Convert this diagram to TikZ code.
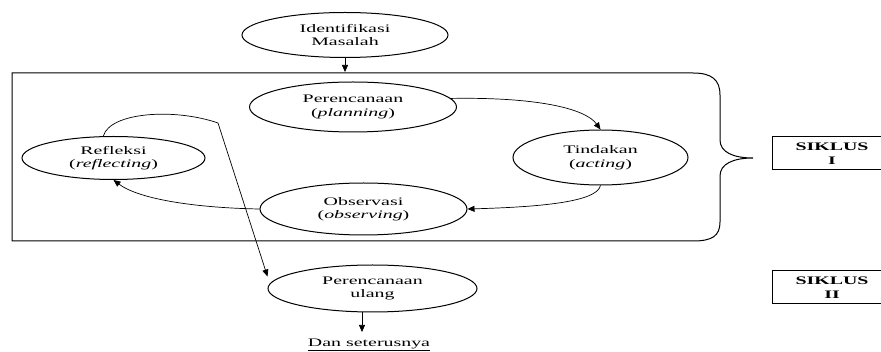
\documentclass[tikz,border=0pt]{standalone}
\usepackage{fontspec}
\setmainfont{Liberation Serif}[FakeStretch=1.73]
\usetikzlibrary{arrows.meta,shapes.geometric}
\begin{document}
\begin{tikzpicture}[x=1pt,y=-1pt,
  el/.style={draw,ellipse,inner sep=0pt,line width=1pt,align=center,
    font=\fontsize{11.5}{13.5}\selectfont},
  arr/.style={-{Triangle[length=7pt,width=6pt]},line width=0.7pt},
  sik/.style={draw,rectangle,line width=1pt,minimum width=120pt,minimum height=33pt,
    align=center,inner sep=0pt,font=\fontsize{11.5}{13.5}\selectfont\bfseries},
  txt/.style={inner sep=0pt,font=\fontsize{11.5}{13.5}\selectfont}]
\useasboundingbox (0,0) rectangle (881,352);

% cycle frame with brace
\draw[line width=1pt] (12,73) -- (693,73)
  .. controls (712,73) and (720,80) .. (720,95) -- (720,140)
  .. controls (720,152) and (733,158) .. (753,158)
  .. controls (733,158) and (720,164) .. (720,176) -- (720,222)
  .. controls (720,236) and (712,241) .. (693,241) -- (12,241) -- cycle;

\node[el,minimum width=206pt,minimum height=45pt] (idm) at (345,35) {Identifikasi\\Masalah};
\node[el,minimum width=207pt,minimum height=50pt] (plan) at (353,107) {Perencanaan\\(\textit{planning})};
\node[el,minimum width=175pt,minimum height=55pt] (tind) at (600.5,157.5) {Tindakan\\(\textit{acting})};
\node[el,minimum width=207pt,minimum height=52pt] (obs) at (363.5,209) {Observasi\\(\textit{observing})};
\node[el,minimum width=183pt,minimum height=43pt] (refl) at (113.5,158) {Refleksi\\(\textit{reflecting})};
\node[el,minimum width=209pt,minimum height=47pt] (pu) at (372.5,288.5) {Perencanaan\\ulang};

\node[sik] (s1) at (832,153.5) {SIKLUS\\I};
\node[sik] (s2) at (832,287.5) {SIKLUS\\II};

\node[txt] (dan) at (369,345) {\underline{Dan seterusnya}};

\coordinate (boxtop) at (345,72);
\coordinate (bend) at (218,123);
\coordinate (dantop) at (362,332);

\draw[arr] (idm) -- (boxtop);
\draw[arr] (plan.5) .. controls (535,97) and (585,108) .. (tind.north);
\draw[arr] (tind.south) .. controls (597,202) and (540,207) .. (obs.east);
\draw[arr] (obs.west) .. controls (200,208) and (140,200) .. (refl.south);
\draw[arr] (refl.115) .. controls (110,112) and (175,108) .. (bend) -- ([yshift=12pt]pu.west);
\draw[arr] (pu.south -| dantop) -- (dantop);
\end{tikzpicture}
\end{document}
